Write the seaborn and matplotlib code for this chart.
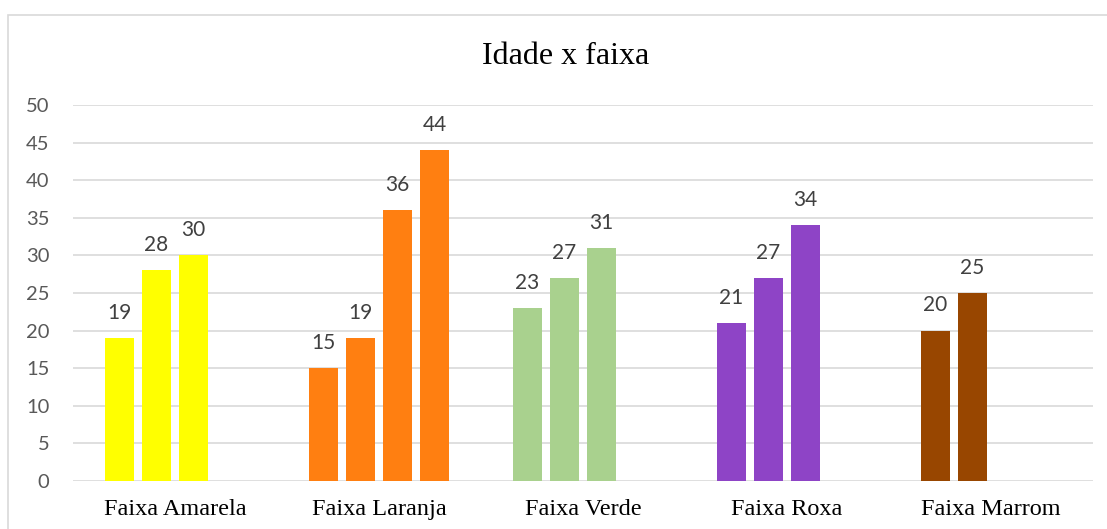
import matplotlib
matplotlib.use("Agg")
import matplotlib.pyplot as plt
import seaborn as sns
import pandas as pd
import numpy as np
from matplotlib.patches import Rectangle

categories = ["Faixa Amarela", "Faixa Laranja", "Faixa Verde", "Faixa Roxa", "Faixa Marrom"]
amarela = [19, 28, 30]
laranja = [15, 19, 36, 44]
verde = [23, 27, 31]
roxa = [21, 27, 34]
marrom = [20, 25]
colors = ["#FFFF00", "#FF7F11", "#A9D18E", "#8E44C6", "#984600"]
y_ticks = [0, 5, 10, 15, 20, 25, 30, 35, 40, 45, 50]
title = "Idade x faixa"

series = [amarela, laranja, verde, roxa, marrom]
rows = []
for cat, vals in zip(categories, series):
    for i, v in enumerate(vals):
        rows.append({"faixa": cat, "slot": str(i), "idade": v})
df = pd.DataFrame(rows)

sns.set_theme(style="white")
fig = plt.figure(figsize=(11.07, 5.29), dpi=100)
ax = fig.add_axes([73/1107, 48/529, (1093-73)/1107, (481-105)/529])

sns.barplot(data=df, x="faixa", y="idade", hue="slot", order=categories,
            hue_order=["0", "1", "2", "3"], width=0.725, gap=0.22,
            dodge=True, ax=ax, legend=False, saturation=1, linewidth=0)

for cont in ax.containers:
    for bar in cont:
        ci = int(round(bar.get_x() + bar.get_width() / 2))
        bar.set_facecolor(colors[ci])
        bar.set_edgecolor("none")
    ax.bar_label(cont, fmt="%g", padding=11, color="#404040", fontsize=15,
                 family="Lato")

ax.set_ylim(0, 50)
ax.set_xlim(-0.5, len(categories) - 0.5)
ax.set_yticks(y_ticks)
ax.yaxis.grid(True, color="#D9D9D9", linewidth=1.2)
ax.set_axisbelow(True)
for s in ax.spines.values():
    s.set_visible(False)
ax.set_xlabel("")
ax.set_ylabel("")
ax.tick_params(axis="y", length=0, pad=17, labelsize=14.5, labelcolor="#595959")
ax.tick_params(axis="x", length=0, pad=13, labelsize=17.5, labelcolor="#000000")
for lab in ax.get_yticklabels():
    lab.set_family("Lato")
for lab in ax.get_xticklabels():
    lab.set_family("Liberation Serif")

fig.text(566/1107, 1 - 57/529, title, ha="center", va="center",
         fontsize=23, family="Liberation Serif", color="#000000")

fig.patches.append(Rectangle((8/1107, -0.1), 1.2, 1 - 15/529 + 0.1,
                             transform=fig.transFigure, fill=False,
                             edgecolor="#D9D9D9", linewidth=1.2))

fig.savefig("out.png", dpi=100)
